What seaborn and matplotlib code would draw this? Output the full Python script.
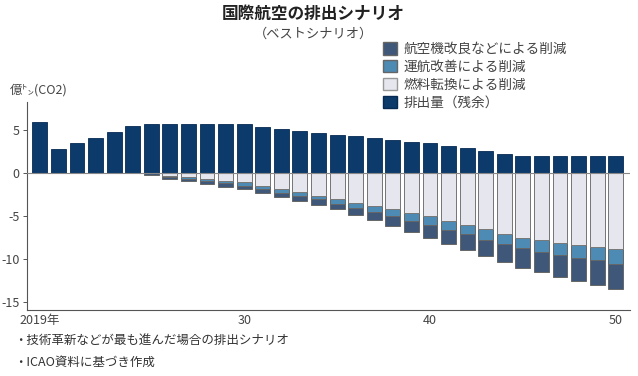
import numpy as np
import pandas as pd
import matplotlib
matplotlib.use("Agg")
import matplotlib.pyplot as plt
import seaborn as sns
from matplotlib.patches import Patch

years = list(range(2019, 2051))
# 排出量（残余）
residual = [6.0, 2.8, 3.5, 4.15, 4.8, 5.5, 5.7, 5.7, 5.7, 5.7, 5.7, 5.7,
            5.45, 5.2, 4.9, 4.7, 4.5, 4.3, 4.1, 3.9, 3.7, 3.5,
            3.2, 2.9, 2.55, 2.25, 2.0, 2.0, 2.0, 2.0, 2.0, 2.0]
# 燃料転換による削減
fuel = [0, 0, 0, 0, 0, 0, 0, 0.3, 0.43, 0.65, 0.9, 1.05,
        1.48, 1.86, 2.22, 2.58, 3.0, 3.5, 3.8, 4.2, 4.6, 5.0,
        5.5, 5.97, 6.5, 7.0, 7.5, 7.8, 8.06, 8.3, 8.6, 8.8]
# 運航改善による削減
ops = [0, 0, 0, 0, 0, 0, 0, 0.15, 0.27, 0.25, 0.26, 0.38,
       0.35, 0.45, 0.45, 0.45, 0.55, 0.5, 0.65, 0.8, 0.95, 1.0,
       1.05, 1.13, 1.2, 1.2, 1.2, 1.3, 1.44, 1.5, 1.5, 1.7]
# 航空機改良などによる削減
aircraft = [0, 0, 0, 0, 0, 0, 0.2, 0.25, 0.23, 0.35, 0.39, 0.37,
            0.45, 0.47, 0.53, 0.65, 0.55, 0.8, 1.0, 1.15, 1.3, 1.5,
            1.65, 1.8, 1.9, 2.1, 2.3, 2.4, 2.5, 2.7, 2.9, 3.0]
tick_labels = {2019: "2019年", 2030: "30", 2040: "40", 2050: "50"}

c_res = "#0b3a6b"
c_air = "#3f5778"
c_ops = "#4d8ab4"
c_fuel = "#e6e7ee"

df = pd.DataFrame({
    "year": [str(y) for y in years],
    "residual": residual,
    "fuel": [-v for v in fuel],
    "fuel_ops": [-(a + b) for a, b in zip(fuel, ops)],
    "total": [-(a + b + c) for a, b, c in zip(fuel, ops, aircraft)],
})

sns.set_theme(style="white")
plt.rcParams['font.family'] = ['Noto Sans CJK JP', 'DejaVu Sans']

fig = plt.figure(figsize=(6.38, 3.76), dpi=100)
ax = fig.add_axes([0.042, 0.1755, 0.945, 0.553])

common = dict(x="year", ax=ax, width=0.8, order=df["year"].tolist())
sns.barplot(data=df, y="residual", color=c_res, saturation=1,
            edgecolor="#062a52", linewidth=0.6, **common)
sns.barplot(data=df, y="total", color=c_air, saturation=1,
            edgecolor="#666666", linewidth=0.7, **common)
sns.barplot(data=df, y="fuel_ops", color=c_ops, saturation=1,
            edgecolor="#666666", linewidth=0.7, **common)
sns.barplot(data=df, y="fuel", color=c_fuel, saturation=1,
            edgecolor="#777777", linewidth=0.7, **common)

ax.axhline(0, color="#888888", linewidth=0.8, zorder=5)

ax.set_ylim(-15.9, 8.3)
ax.set_xlim(-0.7, len(years) - 0.25)
ax.set_yticks([5, 0, -5, -10, -15])
ax.set_yticklabels(["5", "0", "-5", "-10", "-15"])
ax.set_xticks(range(len(years)))
ax.set_xticklabels([tick_labels.get(y, "") for y in years])
ax.set_xlabel("")
ax.set_ylabel("")

for s in ["top", "right"]:
    ax.spines[s].set_visible(False)
for s in ["left", "bottom"]:
    ax.spines[s].set_color("#555555")
    ax.spines[s].set_linewidth(0.8)

ax.tick_params(axis="x", direction="in", length=3, width=0.7, color="#555555",
               labelsize=9, labelcolor="#444444", pad=3)
ax.tick_params(axis="y", direction="out", length=3, width=0.7, color="#555555",
               labelsize=9, labelcolor="#444444", pad=2, left=True)

fig.text(0.491, 0.962, "国際航空の排出シナリオ", ha="center", va="center",
         fontsize=12, fontweight="bold", color="#222222")
fig.text(0.491, 0.909, "（ベストシナリオ）", ha="center", va="center",
         fontsize=9.5, color="#444444")
fig.text(0.016, 0.76, "億㌧(CO2)", ha="left", va="center",
         fontsize=9, color="#444444")
fig.text(0.022, 0.093, "・技術革新などが最も進んだ場合の排出シナリオ", ha="left",
         va="center", fontsize=9, color="#333333")
fig.text(0.022, 0.037, "・ICAO資料に基づき作成", ha="left",
         va="center", fontsize=9, color="#333333")

handles = [
    Patch(facecolor=c_air, edgecolor="#666666", label="航空機改良などによる削減"),
    Patch(facecolor=c_ops, edgecolor="#666666", label="運航改善による削減"),
    Patch(facecolor=c_fuel, edgecolor="#999999", label="燃料転換による削減"),
    Patch(facecolor=c_res, edgecolor="#062a52", label="排出量（残余）"),
]
leg = fig.legend(handles=handles, loc="upper left", bbox_to_anchor=(0.601, 0.888),
                 frameon=False, fontsize=9.8, handlelength=1.0, handleheight=1.0,
                 handletextpad=0.45, labelspacing=0.28, borderpad=0, borderaxespad=0)
for t in leg.get_texts():
    t.set_color("#444444")

fig.savefig("out.png", dpi=100)
